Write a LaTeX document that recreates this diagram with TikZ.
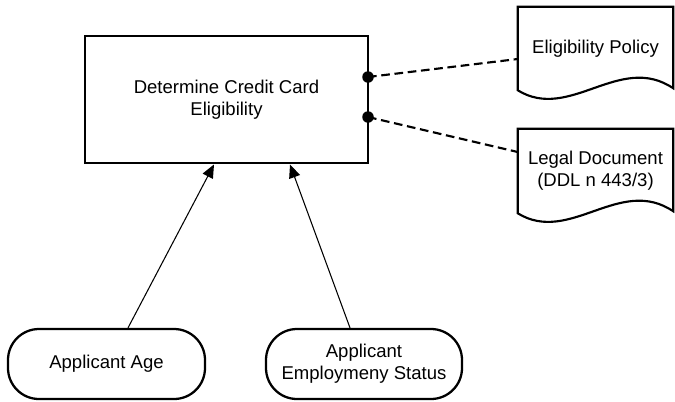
\documentclass[tikz,border=0pt]{standalone}
\usepackage{fontspec}
\setmainfont{Liberation Sans}
\usetikzlibrary{calc,arrows.meta}
\begin{document}
\begin{tikzpicture}[x=0.75pt,y=-0.75pt,
  every node/.style={font=\fontsize{13.9pt}{16.6pt}\selectfont, align=center, inner sep=0pt},
  decision/.style={draw, line width=2.2pt, minimum width=283*0.75pt, minimum height=127*0.75pt},
  knowbox/.style={minimum width=155*0.75pt},
  docline/.style={line width=1.6pt, line join=miter},
  inputdata/.style={draw, line width=1.7pt, rounded corners=31*0.75pt, minimum width=197*0.75pt, minimum height=70*0.75pt},
  reqdot/.style={circle, fill=black, minimum size=11.5*0.75pt},
  authline/.style={line width=1.6pt, dash pattern=on 6.5pt off 3.5pt},
  infoarrow/.style={line width=0.8pt, -{Triangle[length=10pt,width=8.5pt]}}
]
\useasboundingbox (0,0) rectangle (675,401);

% decision
\node[decision] (dec) at (226.5,99.5) {Determine Credit Card\\Eligibility};

% knowledge sources
\node[knowbox, minimum height=83*0.75pt] (pol) at (595.5,48.5) {Eligibility Policy};
\node[knowbox, minimum height=84*0.75pt] (leg) at (595.5,171) {Legal Document\\(DDL n 443/3)};

\draw[docline] (pol.south west) -- (pol.north west) -- (pol.north east) -- ($(pol.south east)+(0,-2)$)
  .. controls ($(pol.south west)+(102,-38)$) and ($(pol.south west)+(52,32)$) .. (pol.south west) -- cycle;
\draw[docline] (leg.south west) -- (leg.north west) -- (leg.north east) -- ($(leg.south east)+(0,-2)$)
  .. controls ($(leg.south west)+(102,-38)$) and ($(leg.south west)+(52,32)$) .. (leg.south west) -- cycle;

% authority requirements
\node[reqdot] (d1) at (368,77) {};
\node[reqdot] (d2) at (368,117) {};
\draw[authline] (d1.center) -- ($(pol.west)+(0,10.5)$);
\draw[authline] (d2.center) -- ($(leg.west)+(0,-19)$);

% input data
\node[inputdata] (in1) at (106.5,364) {Applicant Age};
\node[inputdata, minimum width=196*0.75pt] (in2) at (364,364) {Applicant\\Employmeny Status};

% information requirements
\draw[infoarrow] ($(in1.north)+(21.5,0)$) -- ($(dec.south)+(-12.5,0)$);
\draw[infoarrow] ($(in2.north)+(-14,0)$) -- ($(dec.south)+(63.5,0)$);
\end{tikzpicture}
\end{document}
